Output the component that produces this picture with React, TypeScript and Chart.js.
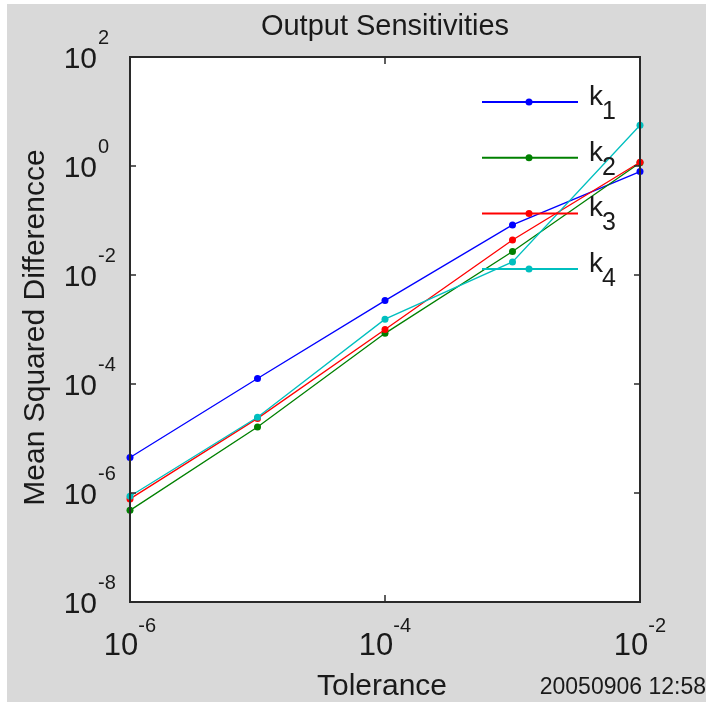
import React, { useEffect, useRef } from "react";
import { Chart, registerables } from "chart.js";

Chart.register(...registerables);

// ---- data ----
const tolerances = [1e-6, 1e-5, 1e-4, 1e-3, 1e-2];
const k1Values = [4.47e-6, 1.26e-4, 3.39e-3, 8.3e-2, 0.79];
const k2Values = [4.8e-7, 1.62e-5, 8.5e-4, 2.7e-2, 1.15];
const k3Values = [7.8e-7, 2.34e-5, 1.0e-3, 4.4e-2, 1.17];
const k4Values = [8.7e-7, 2.45e-5, 1.55e-3, 1.74e-2, 5.6];
const seriesValues = [k1Values, k2Values, k3Values, k4Values];
const legendBase = "k";
const legendSubscripts = ["1", "2", "3", "4"];
const seriesColors = ["#0000ff", "#008000", "#ff0000", "#00bfbf"];
const xTickExponents = [-6, -4, -2];
const yTickExponents = [-8, -6, -4, -2, 0, 2];
const titleText = "Output Sensitivities";
const xTitle = "Tolerance";
const yTitle = "Mean Squared Differencce";
const timestamp = "20050906 12:58";

const FONT = '"Liberation Sans", Arial, Helvetica, sans-serif';
const TEXT = "#1a1a1a";
const FRAME = "#2a2a2a";

const decorPlugin = {
  id: "decor",
  beforeDraw(chart: any) {
    const { ctx, width, height, chartArea: a } = chart;
    ctx.save();
    ctx.fillStyle = "#d9d9d9";
    ctx.fillRect(0, 0, width, height);
    ctx.fillStyle = "#ffffff";
    ctx.fillRect(a.left, a.top, a.right - a.left, a.bottom - a.top);
    ctx.restore();
  },
  afterDraw(chart: any) {
    const { ctx, chartArea: a, scales, width } = chart;
    const xs = scales.x;
    const ys = scales.y;
    ctx.save();

    // frame
    ctx.strokeStyle = FRAME;
    ctx.lineWidth = 2;
    ctx.strokeRect(a.left, a.top, a.right - a.left, a.bottom - a.top);

    // inward ticks
    ctx.lineWidth = 1.5;
    ctx.beginPath();
    for (const e of xTickExponents) {
      const x = xs.getPixelForValue(Math.pow(10, e));
      ctx.moveTo(x, a.bottom);
      ctx.lineTo(x, a.bottom - 7);
      ctx.moveTo(x, a.top);
      ctx.lineTo(x, a.top + 7);
    }
    for (const e of yTickExponents) {
      const y = ys.getPixelForValue(Math.pow(10, e));
      ctx.moveTo(a.left, y);
      ctx.lineTo(a.left + 6, y);
      ctx.moveTo(a.right, y);
      ctx.lineTo(a.right - 6, y);
    }
    ctx.stroke();

    ctx.fillStyle = TEXT;

    // y tick labels
    for (const e of yTickExponents) {
      const y = ys.getPixelForValue(Math.pow(10, e));
      ctx.font = `30px ${FONT}`;
      ctx.textAlign = "right";
      ctx.textBaseline = "alphabetic";
      ctx.fillText("10", a.left - 33, y + 11);
      ctx.font = `20px ${FONT}`;
      ctx.textAlign = "left";
      ctx.fillText(String(e), a.left - 32, y - 13);
    }

    // x tick labels
    for (const e of xTickExponents) {
      const x = xs.getPixelForValue(Math.pow(10, e));
      ctx.font = `31px ${FONT}`;
      const w10 = ctx.measureText("10").width;
      ctx.font = `20px ${FONT}`;
      const wE = ctx.measureText(String(e)).width;
      const start = x - (w10 + wE) / 2;
      ctx.textAlign = "left";
      ctx.textBaseline = "alphabetic";
      ctx.font = `31px ${FONT}`;
      ctx.fillText("10", start, a.bottom + 53);
      ctx.font = `20px ${FONT}`;
      ctx.fillText(String(e), start + w10, a.bottom + 30);
    }

    // title
    ctx.font = `29px ${FONT}`;
    ctx.textAlign = "center";
    ctx.fillText(titleText, (a.left + a.right) / 2, 31);

    // x title
    ctx.font = `30px ${FONT}`;
    ctx.fillText(xTitle, (a.left + a.right) / 2 - 3, a.bottom + 93);

    // y title
    ctx.save();
    ctx.translate(36.5, (a.top + a.bottom) / 2 - 2);
    ctx.rotate(-Math.PI / 2);
    ctx.textAlign = "center";
    ctx.fillText(yTitle, 0, 0);
    ctx.restore();

    // timestamp
    ctx.font = `23px ${FONT}`;
    ctx.textAlign = "right";
    ctx.fillText(timestamp, width, a.bottom + 92);

    // legend (drawn on top of the data, no box)
    const lx0 = a.right - 158;
    const lx1 = a.right - 62;
    const lxm = a.right - 111;
    const rowY0 = a.top + 45;
    const rowStep = 55.7;
    for (let i = 0; i < seriesColors.length; i++) {
      const y = rowY0 + i * rowStep;
      ctx.strokeStyle = seriesColors[i];
      ctx.fillStyle = seriesColors[i];
      ctx.lineWidth = 2;
      ctx.beginPath();
      ctx.moveTo(lx0, y);
      ctx.lineTo(lx1, y);
      ctx.stroke();
      ctx.beginPath();
      ctx.arc(lxm, y, 3.5, 0, Math.PI * 2);
      ctx.fill();
      ctx.fillStyle = TEXT;
      ctx.textAlign = "left";
      ctx.font = `28px ${FONT}`;
      ctx.fillText(legendBase, a.right - 51, y + 3);
      ctx.font = `25px ${FONT}`;
      ctx.fillText(legendSubscripts[i], a.right - 38, y + 17);
    }

    ctx.restore();
  },
};

export default function App() {
  const canvasRef = useRef<HTMLCanvasElement | null>(null);

  useEffect(() => {
    const canvas = canvasRef.current;
    if (!canvas) return;
    const datasets = seriesValues.map((vals, i) => ({
      label: legendBase + legendSubscripts[i],
      data: tolerances.map((t, j) => ({ x: t, y: vals[j] })),
      borderColor: seriesColors[i],
      backgroundColor: seriesColors[i],
      borderWidth: 1.3,
      pointRadius: 3.5,
      pointHoverRadius: 3.5,
      pointBorderWidth: 0,
      pointStyle: "circle",
      tension: 0,
      clip: false as any,
      order: seriesValues.length - i,
    }));
    const chart = new Chart(canvas, {
      type: "line",
      data: { datasets },
      options: {
        animation: false,
        responsive: false,
        devicePixelRatio: 1,
        events: [],
        layout: { padding: { left: 123, right: 66, top: 53, bottom: 100 } },
        plugins: {
          legend: { display: false },
          title: { display: false },
          tooltip: { enabled: false },
        },
        scales: {
          x: { type: "logarithmic", min: 1e-6, max: 1e-2, display: false },
          y: { type: "logarithmic", min: 1e-8, max: 1e2, display: false },
        },
      },
      plugins: [decorPlugin],
    } as any);
    return () => chart.destroy();
  }, []);

  return (
    <div
      style={{
        position: "absolute",
        left: 7,
        top: 4,
        width: 699,
        height: 698,
        background: "#d9d9d9",
      }}
    >
      <canvas ref={canvasRef} width={699} height={698} style={{ display: "block" }} />
    </div>
  );
}
